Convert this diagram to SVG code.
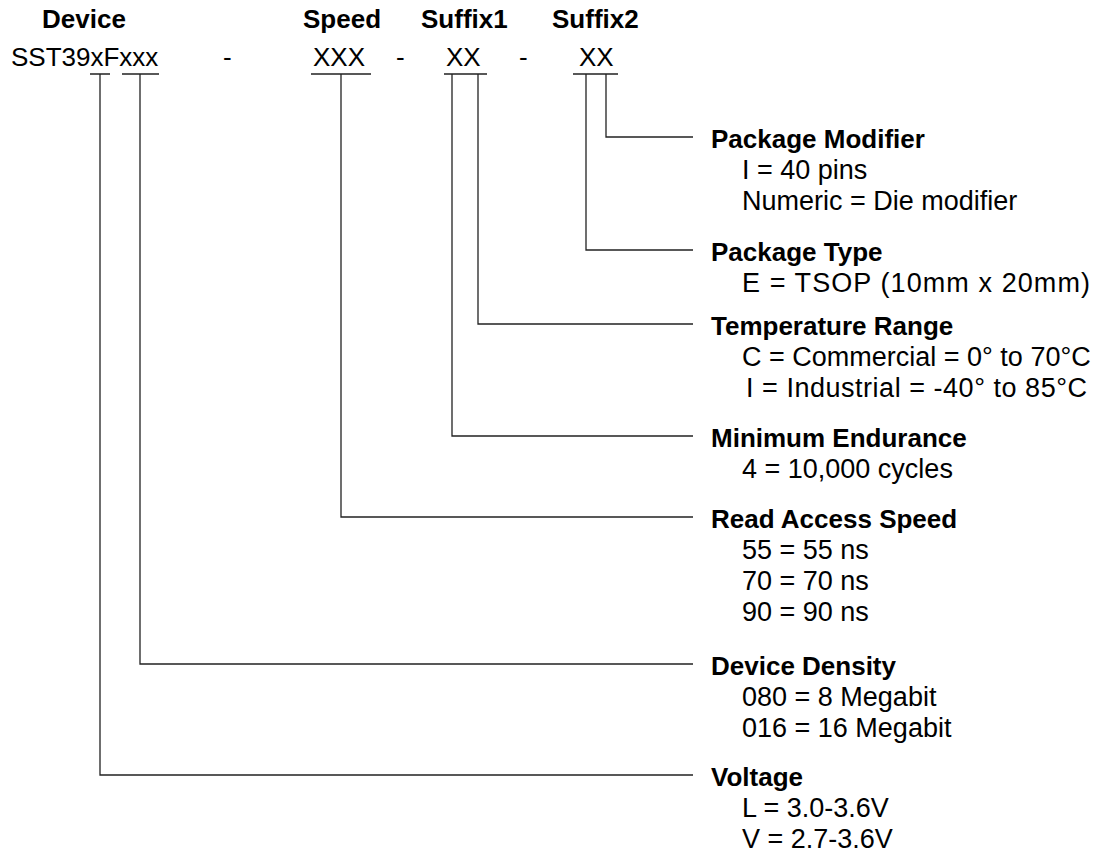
<svg xmlns="http://www.w3.org/2000/svg" width="1100" height="853" viewBox="0 0 1100 853">
<style>
.h{font-family:"Liberation Sans",Arial,sans-serif;font-weight:bold;font-size:26px;fill:#000}
.c{font-family:"Liberation Sans",Arial,sans-serif;font-size:26px;fill:#000}
.t{font-family:"Liberation Sans",Arial,sans-serif;font-size:27px;fill:#000}
.ln{stroke:#222;stroke-width:1.3;fill:none}
</style>
<rect width="1100" height="853" fill="#fff"/>
<g id="header">
<text class="h" x="42" y="28">Device</text>
<text class="h" x="303" y="28">Speed</text>
<text class="h" x="421" y="28">Suffix1</text>
<text class="h" x="552" y="28">Suffix2</text>
<text class="c" x="11" y="66">SST39xFxxx</text>
<text class="c" x="223" y="66">-</text>
<text class="c" x="313" y="66">XXX</text>
<text class="c" x="396" y="66">-</text>
<text class="c" x="446" y="66">XX</text>
<text class="c" x="519" y="66">-</text>
<text class="c" x="579" y="66">XX</text>
</g>
<g id="connectors" class="ln">
<path d="M90 74H110M122 74H159M311 74H371M444 74H487M573 74H618"/>
<path d="M100 74V775H693"/>
<path d="M140 74V664H693"/>
<path d="M341 74V517H693"/>
<path d="M452 74V436H693"/>
<path d="M478 74V324H693"/>
<path d="M586 74V250H693"/>
<path d="M606 74V137H693"/>
</g>
<g id="package-modifier">
<text class="h" x="711" y="148">Package Modifier</text>
<text class="t" x="742" y="179">I = 40 pins</text>
<text class="t" x="742" y="210">Numeric = Die modifier</text>
</g>
<g id="package-type">
<text class="h" x="711" y="261">Package Type</text>
<text class="t" x="742" y="292" textLength="348" lengthAdjust="spacing">E = TSOP (10mm x 20mm)</text>
</g>
<g id="temperature-range">
<text class="h" x="711" y="335">Temperature Range</text>
<text class="t" x="742" y="366">C = Commercial = 0° to 70°C</text>
<text class="t" x="746" y="397" textLength="341" lengthAdjust="spacing">I = Industrial = -40° to 85°C</text>
</g>
<g id="minimum-endurance">
<text class="h" x="711" y="447">Minimum Endurance</text>
<text class="t" x="742" y="478">4 = 10,000 cycles</text>
</g>
<g id="read-access-speed">
<text class="h" x="711" y="528">Read Access Speed</text>
<text class="t" x="742" y="559">55 = 55 ns</text>
<text class="t" x="742" y="590">70 = 70 ns</text>
<text class="t" x="742" y="621">90 = 90 ns</text>
</g>
<g id="device-density">
<text class="h" x="711" y="675">Device Density</text>
<text class="t" x="742" y="706">080 = 8 Megabit</text>
<text class="t" x="742" y="737">016 = 16 Megabit</text>
</g>
<g id="voltage">
<text class="h" x="711" y="786">Voltage</text>
<text class="t" x="742" y="817">L = 3.0-3.6V</text>
<text class="t" x="742" y="848">V = 2.7-3.6V</text>
</g>
</svg>
